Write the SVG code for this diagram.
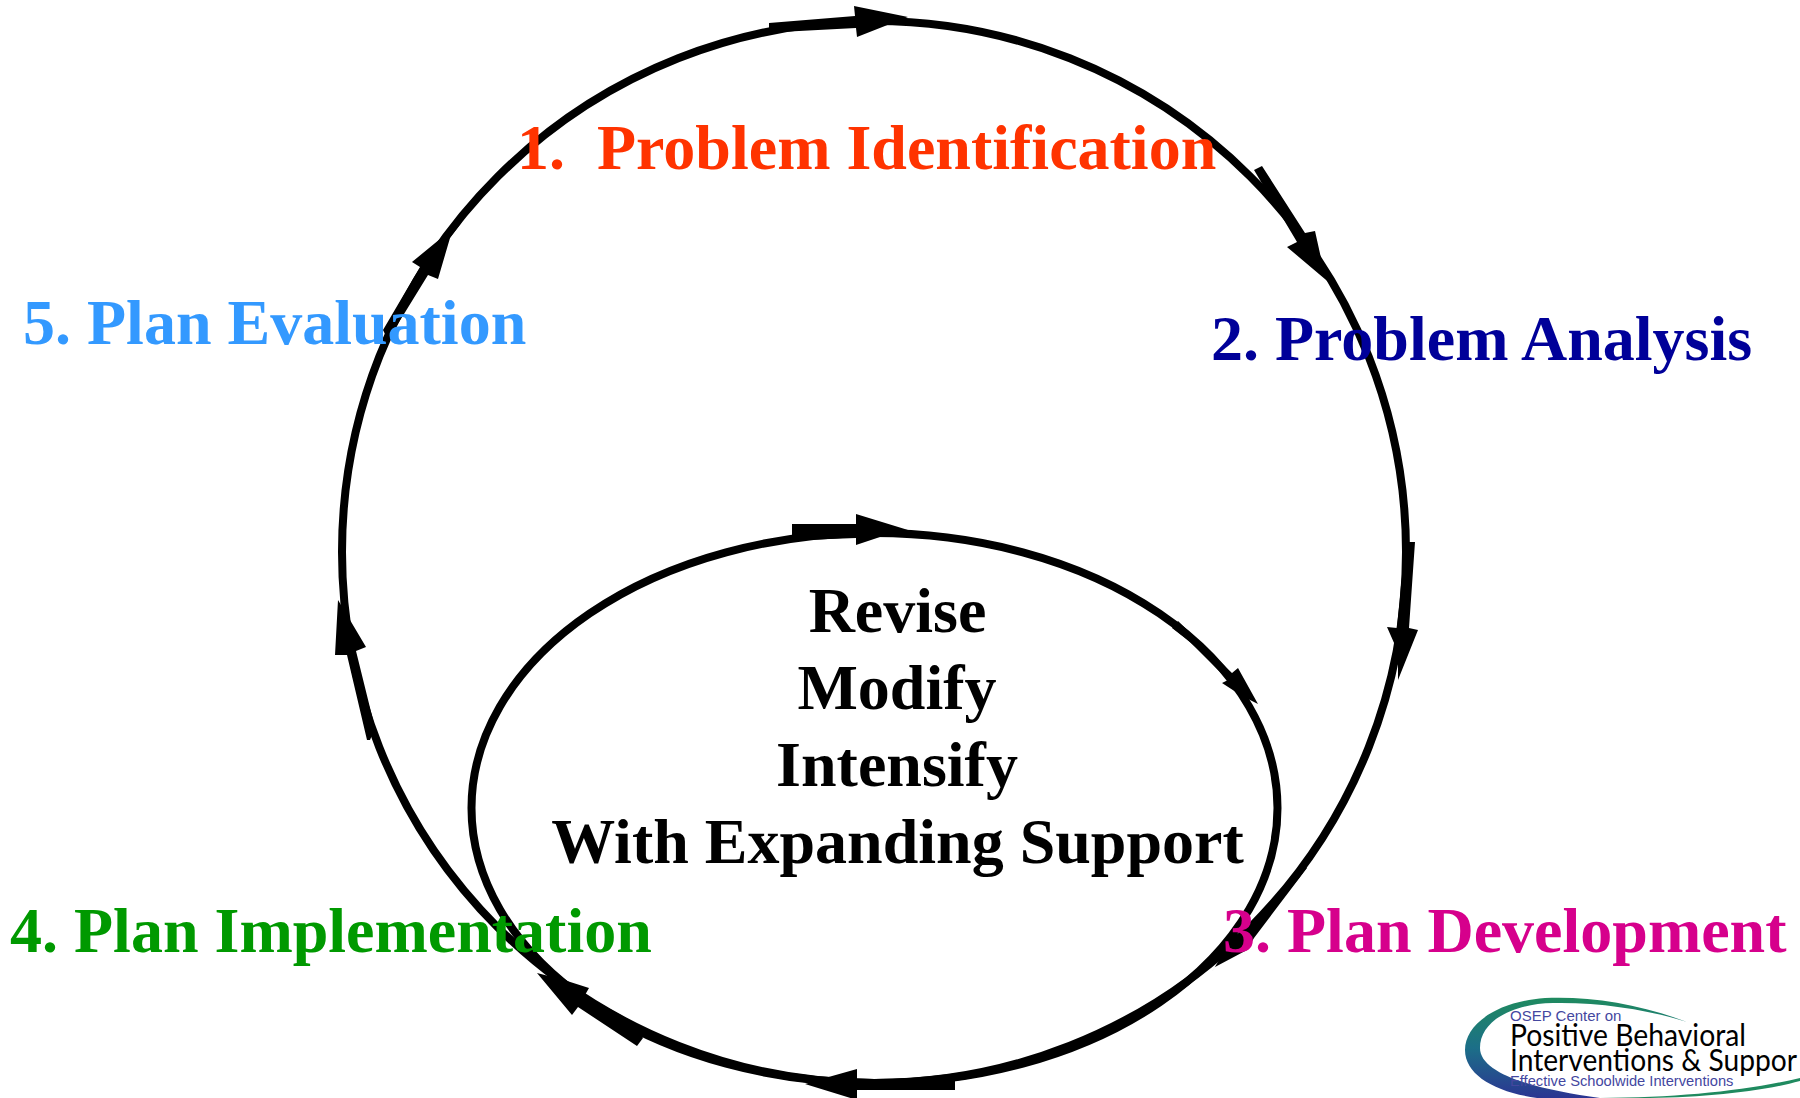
<svg xmlns="http://www.w3.org/2000/svg" width="1800" height="1098" viewBox="0 0 1800 1098">
<style>
.loop{fill:none;stroke:#000;stroke-width:8}
.head{fill:#000;stroke:none}
.lab{font-family:"Liberation Serif","Times New Roman",serif;font-weight:700;font-size:64px;white-space:pre}
.ctr{text-anchor:middle;fill:#000}
.sans{font-family:"Liberation Sans",Arial,sans-serif;fill:#44479f}
.open{font-family:"Lato","Open Sans",sans-serif;fill:#000}
</style>
<defs>
<linearGradient id="sw" x1="0" y1="0" x2="0" y2="1">
<stop offset="0" stop-color="#1f8a5f"/><stop offset="0.5" stop-color="#1c6f88"/><stop offset="1" stop-color="#2b3592"/>
</linearGradient>
</defs>
<rect width="1800" height="1098" fill="#fff"/>
<g id="connectors">
<ellipse class="loop" cx="874" cy="552" rx="532" ry="531"/>
<ellipse class="loop" cx="874.5" cy="808" rx="403" ry="275"/>
<polygon class="head" points="769,23 855,16 854,6 908,17 890,24 857,37 856,28 780,32 769,28"/>
<polygon class="head" points="1254,170 1262,166 1305,233 1315,231 1321,258 1332,285 1287,247 1297,242"/>
<polygon class="head" points="1405,542 1415,542 1409,628 1418,630 1398,680 1398,652 1387,627 1397,628"/>
<polygon class="head" points="1307,868 1303,864 1250,925 1232,938 1212,972 1215,967 1247,950 1254,938"/>
<polygon class="head" points="955,1080 955,1090 857,1090 857,1100 805,1084 825,1078 857,1069 857,1080"/>
<polygon class="head" points="637,1046 578,1007 572,1015 537,973 564,980 589,988 585,995 635,1023 643,1038"/>
<polygon class="head" points="370,740 367,740 347,655 335,655 338,600 350,620 366,647 356,651 375,728"/>
<polygon class="head" points="462,222 450,238 438,279 428,275 388,340 383,330 420,267 412,262 440,239"/>
<polygon class="head" points="792,524 856,524 856,514 908,530 880,537 856,545 856,538 803,540 792,535"/>
<polygon class="head" points="1178,621 1232,673 1238,668 1258,704 1242,696 1222,683 1228,680 1190,642 1172,628"/>
</g>
<g id="node-1"><text class="lab" x="517" y="169" fill="#ff3300">1.  Problem Identification</text></g>
<g id="node-2"><text class="lab" x="1211" y="360" fill="#000099">2. Problem Analysis</text></g>
<g id="node-3"><text class="lab" x="1223" y="952" fill="#d6008c">3. Plan Development</text></g>
<g id="node-4"><text class="lab" x="10" y="952" fill="#009900">4. Plan Implementation</text></g>
<g id="node-5"><text class="lab" x="23" y="344" fill="#3399ff">5. Plan Evaluation</text></g>
<g id="node-center">
<text class="lab ctr" x="897.5" y="632">Revise</text>
<text class="lab ctr" x="897" y="709">Modify</text>
<text class="lab ctr" x="897" y="786">Intensify</text>
<text class="lab ctr" x="897.5" y="863">With Expanding Support</text>
</g>
<g id="logo">
<path fill="url(#sw)" d="M1687,1022 C1640,1004 1590,996 1545,998 C1495,1002 1465,1025 1465,1050 C1465,1075 1495,1092 1537,1098 L1600,1098 C1540,1090 1480,1075 1480,1048 C1480,1022 1510,1004 1553,1003 C1600,1002 1650,1010 1687,1022 Z"/>
<path fill="#1f8a5f" d="M1600,1098 C1680,1098 1750,1090 1800,1078 L1800,1081 C1760,1092 1700,1098 1640,1098 Z"/>
<text class="sans" x="1510" y="1021" font-size="15">OSEP Center on</text>
<text class="open" x="1510" y="1046" font-size="30" textLength="236" lengthAdjust="spacingAndGlyphs">Positive Behavioral</text>
<text class="open" x="1510" y="1071" font-size="30" textLength="287" lengthAdjust="spacingAndGlyphs">Interventions &amp; Suppor</text>
<text class="sans" x="1510" y="1086" font-size="14.7">Effective Schoolwide Interventions</text>
</g>
</svg>
